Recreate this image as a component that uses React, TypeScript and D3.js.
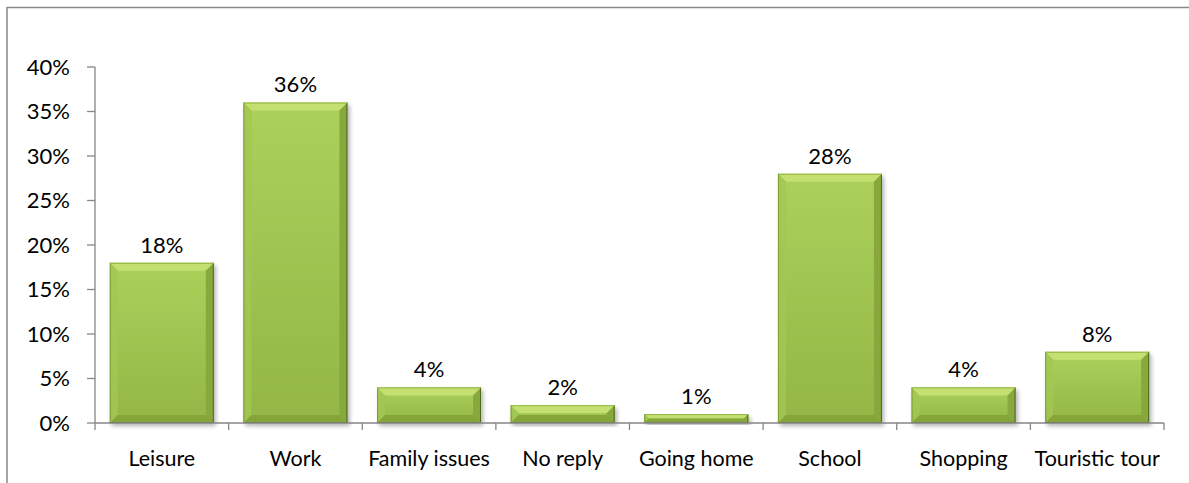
import React from "react";
import * as d3 from "d3";

const categories = ["Leisure", "Work", "Family issues", "No reply", "Going home", "School", "Shopping", "Touristic tour"];
const values = [18, 36, 4, 2, 1, 28, 4, 8];
const yTicks = [0, 5, 10, 15, 20, 25, 30, 35, 40];

const W = 1189, H = 483;
const left = 95, right = 1164, top = 67, bottom = 423;
const FONT = "Lato, 'Open Sans', sans-serif";

export default function App() {
  const x = d3.scaleBand<string>().domain(categories).range([left, right]).paddingInner(0.222).paddingOuter(0.111);
  const y = d3.scaleLinear().domain([0, 40]).range([bottom, top]);
  const bw = x.bandwidth();
  const step = x.step();
  return (
    <svg width={W} height={H} style={{ position: "absolute", left: 0, top: 0 }}>
      <defs>
        <linearGradient id="face" x1="0" y1="0" x2="0" y2="1">
          <stop offset="0" stopColor="#acd15b" />
          <stop offset="1" stopColor="#93b645" />
        </linearGradient>
        <filter id="sh" x="-10%" y="-10%" width="130%" height="130%">
          <feGaussianBlur in="SourceAlpha" stdDeviation="2" />
          <feOffset dx="2" dy="3" result="b" />
          <feComponentTransfer><feFuncA type="linear" slope="0.3" /></feComponentTransfer>
          <feMerge><feMergeNode /><feMergeNode in="SourceGraphic" /></feMerge>
        </filter>
      </defs>
      <rect x={0} y={0} width={W} height={H} fill="#fff" />
      <line x1={7} y1={7.5} x2={W} y2={7.5} stroke="#888" strokeWidth={1.5} />
      <line x1={7} y1={7} x2={7} y2={H} stroke="#888" strokeWidth={1.5} />
      {categories.map((c, i) => {
        const x0 = x(c)!;
        const x1 = x0 + bw;
        const y0 = y(values[i]);
        const y1 = y(0);
        const h = y1 - y0;
        const b = Math.min(8, h / 2, bw / 2);
        return (
          <g key={c} filter="url(#sh)">
            <rect x={x0} y={y0} width={bw} height={h} fill="url(#face)" />
            <polygon points={`${x0},${y0} ${x1},${y0} ${x1 - b},${y0 + b} ${x0 + b},${y0 + b}`} fill="#c4e070" />
            <polygon points={`${x0},${y0} ${x0 + b},${y0 + b} ${x0 + b},${y1 - b} ${x0},${y1}`} fill="#a3c752" opacity={0.8} />
            <polygon points={`${x1},${y0} ${x1},${y1} ${x1 - b},${y1 - b} ${x1 - b},${y0 + b}`} fill="#88a83c" />
            <polygon points={`${x0},${y1} ${x0 + b},${y1 - b} ${x1 - b},${y1 - b} ${x1},${y1}`} fill="#85a53a" />
            <line x1={x0 + 0.5} y1={y0} x2={x0 + 0.5} y2={y1} stroke="#7f9d36" strokeWidth={1} />
            <line x1={x1 - 0.5} y1={y0} x2={x1 - 0.5} y2={y1} stroke="#4f6a1c" strokeWidth={1} />
            <line x1={x0} y1={y1 - 0.5} x2={x1} y2={y1 - 0.5} stroke="#5b7622" strokeWidth={1} />
            <line x1={x0} y1={y0 + 0.5} x2={x1} y2={y0 + 0.5} stroke="#93b447" strokeWidth={1} />
          </g>
        );
      })}
      <line x1={left} y1={top} x2={left} y2={bottom} stroke="#868686" strokeWidth={1.3} />
      {yTicks.map((t) => (
        <g key={t}>
          <line x1={left - 8} x2={left} y1={y(t)} y2={y(t)} stroke="#868686" strokeWidth={1.3} />
          <text x={70} y={y(t)} dy="0.35em" textAnchor="end" fontFamily={FONT} fontSize={22} fill="#000">{t}%</text>
        </g>
      ))}
      <line x1={left} y1={bottom} x2={right} y2={bottom} stroke="#868686" strokeWidth={1.3} />
      {d3.range(categories.length + 1).map((i) => (
        <line key={i} x1={left + i * step} x2={left + i * step} y1={bottom} y2={bottom + 7} stroke="#868686" strokeWidth={1.3} />
      ))}
      {categories.map((c) => (
        <text key={c} x={x(c)! + bw / 2} y={458} dy="0.35em" textAnchor="middle" fontFamily={FONT} fontSize={21.5} fill="#000">{c}</text>
      ))}
      {categories.map((c, i) => (
        <text key={c} x={x(c)! + bw / 2} y={y(values[i]) - 18} dy="0.35em" textAnchor="middle" fontFamily={FONT} fontSize={22} fill="#000">{values[i]}%</text>
      ))}
    </svg>
  );
}
